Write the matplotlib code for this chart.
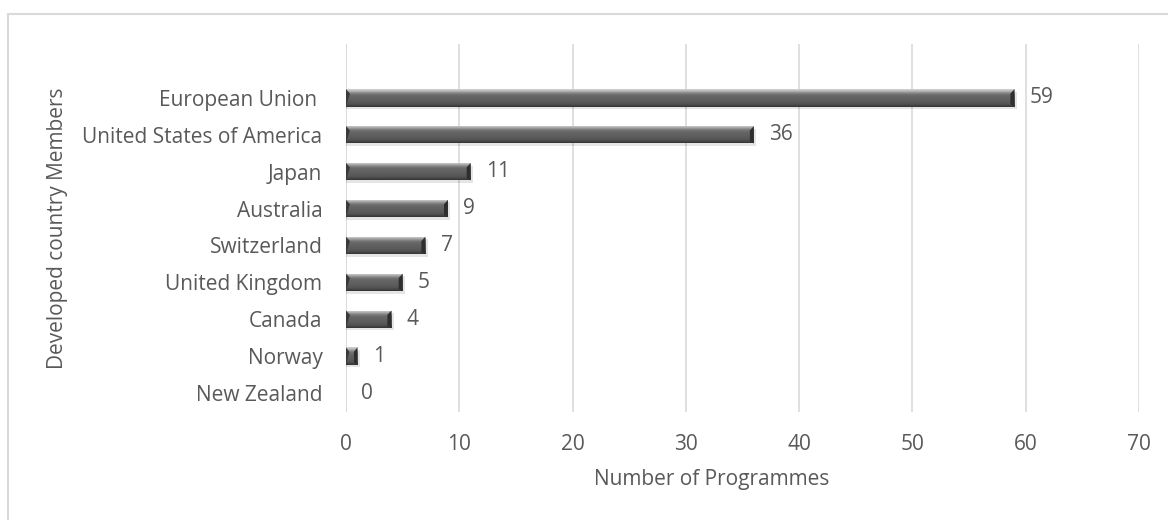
import numpy as np
import matplotlib
matplotlib.use('Agg')
import matplotlib.pyplot as plt
from matplotlib.patches import Rectangle

# data
countries = ['European Union ', 'United States of America', 'Japan', 'Australia',
             'Switzerland', 'United Kingdom', 'Canada', 'Norway', 'New Zealand']
programmes = [59, 36, 11, 9, 7, 5, 4, 1, 0]
xticks = [0, 10, 20, 30, 40, 50, 60, 70]

plt.rcParams['font.family'] = ['Open Sans', 'DejaVu Sans']
txt = '#595959'
fs = 15

fig = plt.figure(figsize=(11.68, 5.2), dpi=100)
ax = fig.add_axes([346 / 1168, 1 - 412 / 520, (1139 - 346) / 1168, (412 - 44) / 520])

n = len(countries)
ypos = np.arange(n)[::-1]  # EU on top
bh = 0.47

# vertical shading for the bevelled bar look
shade = np.array([0.80, 0.74, 0.64, 0.54, 0.46, 0.42, 0.40, 0.39, 0.38, 0.37,
                  0.36, 0.35, 0.34, 0.31, 0.27, 0.22])[:, None]

for y, v in zip(ypos, programmes):
    if v > 0:
        # soft shadow
        ax.barh(y - 0.07, v + 0.2, height=bh, left=0, color='#000000', alpha=0.10,
                zorder=2, linewidth=0)
        bar = ax.barh(y, v, height=bh, color='#595959', zorder=3, linewidth=0)[0]
        im = ax.imshow(shade, cmap='gray', vmin=0, vmax=1, aspect='auto',
                       extent=[0, v, y - bh / 2, y + bh / 2], zorder=4,
                       interpolation='bilinear')
        im.set_clip_path(bar)
        # bevelled end caps
        cap = min(0.35, v * 0.3)
        ax.fill([0, cap, 0], [y + bh / 2, y + bh / 2 - 0.12, y - bh / 2],
                color='#3a3a3a', zorder=5, linewidth=0)
        ax.fill([v, v - cap, v - cap, v], [y + bh / 2, y + bh / 2 - 0.12, y - bh / 2 + 0.06, y - bh / 2],
                color='#2e2e2e', zorder=5, linewidth=0)
    ax.annotate(str(v), xy=(v, y), xytext=(11, 0), textcoords='offset points',
                va='center', ha='left', fontsize=fs, color=txt)

ax.set_xlim(0, 70)
ax.set_ylim(-0.515, n - 1 + 1.46)
ax.set_xticks(xticks)
ax.set_yticks(ypos)
ax.set_yticklabels(countries)
ax.tick_params(axis='both', length=0, labelsize=fs, labelcolor=txt)
ax.tick_params(axis='x', pad=16)
ax.tick_params(axis='y', pad=17)
ax.grid(axis='x', color='#d9d9d9', linewidth=1.2, zorder=0)
ax.set_axisbelow(True)
for s in ax.spines.values():
    s.set_visible(False)
ax.axvline(0, color='#d9d9d9', linewidth=1.2, zorder=1)

fig.text(712 / 1168, 1 - 479 / 520, 'Number of Programmes', ha='center', va='center',
         fontsize=fs, color=txt)
fig.text(57 / 1168, 1 - 228 / 520, 'Developed country Members', ha='center', va='center',
         rotation=90, fontsize=fs, color=txt)

# chart frame
fig.patches.append(Rectangle((8 / 1168, -0.1), 1.2, 1 - 14 / 520 + 0.1,
                             transform=fig.transFigure, fill=False,
                             edgecolor='#d9d9d9', linewidth=1.5))

fig.savefig('out.png', dpi=100)
